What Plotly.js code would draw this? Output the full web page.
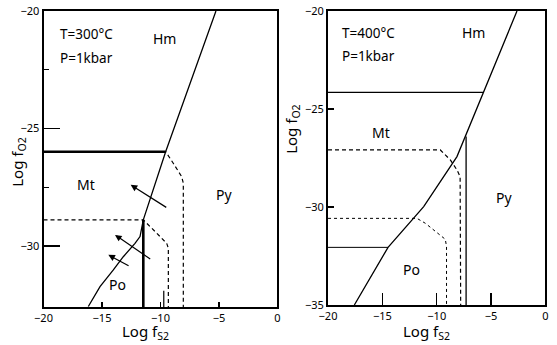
<!DOCTYPE html>
<html>
<head>
<meta charset="utf-8">
<script src="https://cdn.plot.ly/plotly-3.0.1.min.js"></script>
<style>html,body{margin:0;padding:0;background:#fff;}#chart{width:557px;height:345px;}</style>
</head>
<body>
<div id="chart"></div>
<script>
// ---------- Left panel (T=300°C) ----------
const L_pyBoundaryX = [-5.26, -9.56, -11.47, -11.75, -12.18, -13.18, -14.03, -15.17, -16.17];
const L_pyBoundaryY = [-20.0, -25.99, -28.89, -29.6, -29.89, -30.46, -31.02, -31.73, -32.58];
const L_hmMtX = [-20, -9.56];
const L_hmMtY = [-25.99, -25.99];
const L_dashUpperX = [-20, -9.56, -8.91, -8.19, -8.05, -8.05];
const L_dashUpperY = [-25.99, -25.99, -26.48, -27.05, -27.33, -32.6];
const L_dashLowerX = [-20, -11.47, -10.32, -9.47, -9.33, -9.33];
const L_dashLowerY = [-28.89, -28.89, -29.46, -29.89, -30.1, -32.6];
const L_poPyX = [-11.47, -11.47];
const L_poPyY = [-28.89, -32.6];
const L_shortX = [-9.72, -9.72];
const L_shortY = [-31.91, -32.6];
// arrows: tail -> head
const L_arrowTailX = [-9.38, -10.75, -12.6];
const L_arrowTailY = [-28.4, -30.6, -30.88];
const L_arrowHeadX = [-12.55, -13.89, -14.46];
const L_arrowHeadY = [-27.4, -29.53, -30.38];

// ---------- Right panel (T=400°C) ----------
const R_pyBoundaryX = [-2.62, -5.68, -7.37, -8.14, -11.2, -14.48, -17.58];
const R_pyBoundaryY = [-20.0, -24.12, -26.33, -27.43, -29.98, -32.06, -35.0];
const R_hmMtX = [-20, -5.68];
const R_hmMtY = [-24.15, -24.15];
const R_solidVertX = [-7.3, -7.3];
const R_solidVertY = [-26.4, -35];
const R_dashUpperX = [-20, -9.67, -8.75, -8.14, -7.85, -7.8];
const R_dashUpperY = [-27.09, -27.09, -27.6, -28.11, -28.45, -35];
const R_dashLowerX = [-20, -11.82, -11.05, -9.21, -9.1, -9.1];
const R_dashLowerY = [-30.58, -30.58, -30.83, -31.65, -32.03, -35];
const R_thinX = [-20, -14.48];
const R_thinY = [-32.06, -32.06];

// tick values
const xTicks = [-20, -15, -10, -5, 0];
const L_yTicks = [-20, -25, -30];
const L_yMinor = [-22.5, -27.5];
const R_yTicks = [-20, -25, -30, -35];

const FONT = 'Noto Sans, Open Sans, DejaVu Sans, sans-serif';

function line(x, y, w, dash, xa, ya) {
  return {x: x, y: y, type: 'scatter', mode: 'lines', xaxis: xa, yaxis: ya,
    line: {color: '#000', width: w, dash: dash || 'solid'}, hoverinfo: 'skip', showlegend: false};
}

const traces = [
  line(L_hmMtX, L_hmMtY, 2.6, 'solid', 'x', 'y'),
  line(L_dashUpperX, L_dashUpperY, 1.2, '4px,3px', 'x', 'y'),
  line(L_dashLowerX, L_dashLowerY, 1.2, '4px,3px', 'x', 'y'),
  line(L_poPyX, L_poPyY, 2.6, 'solid', 'x', 'y'),
  line(L_shortX, L_shortY, 1.2, 'solid', 'x', 'y'),
  line(L_pyBoundaryX, L_pyBoundaryY, 1.3, 'solid', 'x', 'y'),
  line(R_hmMtX, R_hmMtY, 1.2, 'solid', 'x2', 'y2'),
  line(R_solidVertX, R_solidVertY, 1.3, 'solid', 'x2', 'y2'),
  line(R_dashUpperX, R_dashUpperY, 1.2, '4px,3px', 'x2', 'y2'),
  line(R_dashLowerX, R_dashLowerY, 1.0, '3px,3px', 'x2', 'y2'),
  line(R_thinX, R_thinY, 1.0, 'solid', 'x2', 'y2'),
  line(R_pyBoundaryX, R_pyBoundaryY, 1.3, 'solid', 'x2', 'y2')
];

const annotations = [];
for (let i = 0; i < L_arrowTailX.length; i++) {
  annotations.push({x: L_arrowHeadX[i], y: L_arrowHeadY[i], ax: L_arrowTailX[i], ay: L_arrowTailY[i],
    xref: 'x', yref: 'y', axref: 'x', ayref: 'y', text: '', showarrow: true,
    arrowhead: 2, arrowsize: 1.1, arrowwidth: 1.2, arrowcolor: '#000'});
}
function label(text, x, y, xref, yref, size, anchor) {
  return {text: text, x: x, y: y, xref: xref, yref: yref, showarrow: false,
    xanchor: anchor || 'center', yanchor: 'middle', font: {family: FONT, size: size || 14, color: '#000'}};
}
// region labels (data coordinates)
annotations.push(label('T=300°C', -18.8, -21.0, 'x', 'y', 13.5, 'left'));
annotations.push(label('P=1kbar', -18.8, -22.0, 'x', 'y', 13.5, 'left'));
annotations.push(label('Hm', -9.7, -21.15, 'x', 'y', 14));
annotations.push(label('Mt', -16.4, -27.4, 'x', 'y', 14));
annotations.push(label('Py', -4.6, -27.8, 'x', 'y', 14));
annotations.push(label('Po', -13.7, -31.65, 'x', 'y', 14));
annotations.push(label('T=400°C', -18.9, -21.1, 'x2', 'y2', 13.5, 'left'));
annotations.push(label('P=1kbar', -18.9, -22.3, 'x2', 'y2', 13.5, 'left'));
annotations.push(label('Hm', -6.6, -21.1, 'x2', 'y2', 14));
annotations.push(label('Mt', -15.15, -26.2, 'x2', 'y2', 14));
annotations.push(label('Py', -3.8, -29.5, 'x2', 'y2', 14));
annotations.push(label('Po', -12.35, -33.2, 'x2', 'y2', 14));
// axis titles (paper coordinates)
annotations.push(label('Log f<sub>S2</sub>', 0.262, -0.083, 'paper', 'paper', 15));
annotations.push(label('Log f<sub>S2</sub>', 0.765, -0.083, 'paper', 'paper', 15));
annotations.push(Object.assign(label('Log f<sub>O2</sub>', 0.032, 0.49, 'paper', 'paper', 15), {textangle: -90}));
annotations.push(Object.assign(label('Log f<sub>O2</sub>', 0.525, 0.6, 'paper', 'paper', 15), {textangle: -90}));

const axBase = {showline: true, mirror: true, linecolor: '#000', linewidth: 2, showgrid: false, zeroline: false,
  ticks: 'inside', tickcolor: '#000', tickwidth: 1.3, tickfont: {family: FONT, size: 11, color: '#000'}, fixedrange: true};

const layout = {
  width: 557, height: 345,
  margin: {l: 0, r: 0, t: 11, b: 38},
  paper_bgcolor: '#fff', plot_bgcolor: '#fff',
  showlegend: false,
  xaxis: Object.assign({}, axBase, {domain: [0.0781, 0.4982], range: [-20, 0], tickmode: 'array', tickvals: xTicks, ticklen: 5, anchor: 'y'}),
  yaxis: Object.assign({}, axBase, {domain: [0, 1], range: [-32.6, -20], tickmode: 'array', tickvals: L_yTicks, ticklen: 16, anchor: 'x',
    minor: {tickmode: 'array', tickvals: L_yMinor, ticks: 'inside', ticklen: 5, tickcolor: '#000', tickwidth: 1.3}}),
  xaxis2: Object.assign({}, axBase, {domain: [0.5889, 0.9793], range: [-20, 0], tickmode: 'array', tickvals: xTicks, ticklen: 12, anchor: 'y2'}),
  yaxis2: Object.assign({}, axBase, {domain: [0.0068, 1], range: [-35, -20], tickmode: 'array', tickvals: R_yTicks, ticklen: 6, anchor: 'x2'}),
  annotations: annotations
};

Plotly.newPlot('chart', traces, layout, {staticPlot: true, displayModeBar: false});
</script>
</body>
</html>
